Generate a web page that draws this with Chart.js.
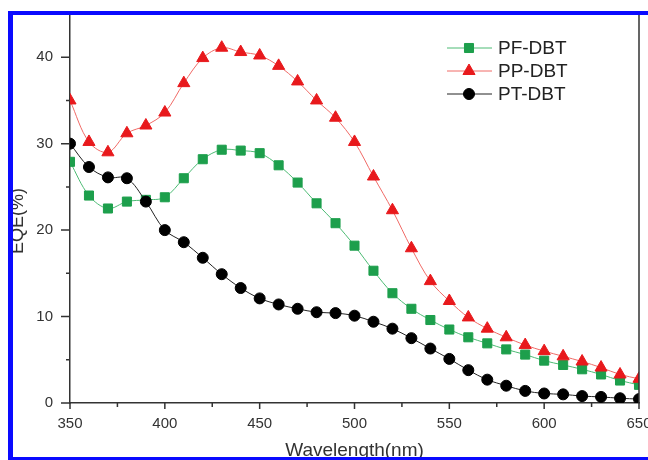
<!DOCTYPE html>
<html>
<head>
<meta charset="utf-8">
<script src="https://cdn.jsdelivr.net/npm/chart.js@4"></script>
<style>
  html, body { margin: 0; padding: 0; background: #fff; }
  #wrap { width: 648px; height: 460px; }
</style>
</head>
<body>
<div id="wrap"><canvas id="eqe" width="648" height="460"></canvas></div>
<script>
// wavelength (nm)
const wavelengths = [350, 360, 370, 380, 390, 400, 410, 420, 430, 440, 450, 460, 470, 480, 490, 500,
                     510, 520, 530, 540, 550, 560, 570, 580, 590, 600, 610, 620, 630, 640, 650];
// EQE (%)
const pfDbt = [27.9, 24.0, 22.5, 23.3, 23.5, 23.8, 26.0, 28.2, 29.3, 29.2, 28.9, 27.5, 25.5, 23.1, 20.8, 18.2,
               15.3, 12.7, 10.9, 9.6, 8.5, 7.6, 6.9, 6.2, 5.6, 4.9, 4.4, 3.9, 3.3, 2.6, 2.1];
const ppDbt = [35.0, 30.2, 29.0, 31.2, 32.1, 33.6, 37.0, 39.9, 41.1, 40.6, 40.2, 39.0, 37.2, 35.0, 33.0, 30.2,
               26.2, 22.3, 17.9, 14.1, 11.8, 9.9, 8.6, 7.6, 6.7, 6.0, 5.4, 4.8, 4.1, 3.3, 2.8];
const ptDbt = [30.0, 27.3, 26.1, 26.0, 23.3, 20.0, 18.6, 16.8, 14.9, 13.3, 12.1, 11.4, 10.9, 10.5, 10.4, 10.1,
               9.4, 8.6, 7.5, 6.3, 5.1, 3.8, 2.7, 2.0, 1.4, 1.1, 1.0, 0.8, 0.7, 0.55, 0.45];
const seriesNames = ['PF-DBT', 'PP-DBT', 'PT-DBT'];
const xTicks = [350, 400, 450, 500, 550, 600, 650];
const yTicks = [0, 10, 20, 30, 40];

const FONT = '"Liberation Sans", Arial, sans-serif';
const AXIS = '#333';

function pts(vals) {
    return wavelengths.map((w, i) => ({ x: w, y: vals[i] }));
}

// fixed axis box, no extra room for the end labels
function pinScale(s, size) {
    if (s.isHorizontal()) s.height = size; else s.width = size;
    s.paddingTop = 0; s.paddingBottom = 0;
    s.paddingLeft = 0; s.paddingRight = 0;
}

// axis ticks (major + minor), right frame line, y title and the blue picture border
const frameAndTicks = {
    id: 'frameAndTicks',
    afterDatasetsDraw(chart) {
        const { ctx, chartArea: a, scales: { x, y } } = chart;
        ctx.save();
        ctx.strokeStyle = AXIS;
        ctx.lineWidth = 1.5;
        ctx.beginPath();
        // right frame line
        ctx.moveTo(a.right, a.top);
        ctx.lineTo(a.right, a.bottom);
        // x ticks, pointing down
        for (let v = 350; v <= 650; v += 25) {
            const px = x.getPixelForValue(v);
            const len = (v % 50 === 0) ? 6 : 4;
            ctx.moveTo(px, a.bottom);
            ctx.lineTo(px, a.bottom + len);
        }
        // y ticks, pointing left
        for (let v = 0; v <= 45; v += 5) {
            const py = y.getPixelForValue(v);
            const len = (v % 10 === 0) ? 9 : 4;
            ctx.moveTo(a.left, py);
            ctx.lineTo(a.left - len, py);
        }
        ctx.stroke();

        // y title, sits a bit below the middle of the axis
        ctx.translate(18, 221);
        ctx.rotate(-Math.PI / 2);
        ctx.font = '18px ' + FONT;
        ctx.fillStyle = AXIS;
        ctx.textAlign = 'center';
        ctx.textBaseline = 'middle';
        ctx.fillText('EQE(%)', 0, 0);
        ctx.restore();
    },
    afterDraw(chart) {
        const ctx = chart.ctx;
        ctx.save();
        ctx.fillStyle = '#0a0aff';
        ctx.fillRect(8, 11, 640, 4);     // top band
        ctx.fillRect(8, 11, 5, 449);     // left band
        ctx.fillRect(8, 457, 640, 3);    // bottom band
        ctx.restore();
    }
};

// legend with a line through each marker
const lineLegend = {
    id: 'lineLegend',
    afterDatasetsDraw(chart) {
        const ctx = chart.ctx;
        ctx.save();
        ctx.font = '19px ' + FONT;
        ctx.textBaseline = 'middle';
        chart.data.datasets.forEach((ds, i) => {
            const yy = 48 + i * 23;
            ctx.strokeStyle = ds.borderColor;
            ctx.lineWidth = 1;
            ctx.beginPath();
            ctx.moveTo(447, yy);
            ctx.lineTo(492, yy);
            ctx.stroke();
            ctx.fillStyle = ds.pointBackgroundColor;
            ctx.strokeStyle = ds.pointBackgroundColor;
            Chart.helpers.drawPoint(ctx, {
                pointStyle: ds.pointStyle, radius: ds.pointRadius, borderWidth: 1, rotation: 0
            }, 469, yy);
            ctx.fillStyle = '#222';
            ctx.fillText(ds.label, 498, yy + 1);
        });
        ctx.restore();
    }
};

new Chart(document.getElementById('eqe'), {
    type: 'line',
    data: {
        datasets: [
            {
                label: seriesNames[0], data: pts(pfDbt), order: 2,
                borderColor: '#4dbb74', borderWidth: 1,
                pointStyle: 'rect', pointRadius: 6.4,
                pointBackgroundColor: '#1d9f4c', pointBorderColor: '#1d9f4c', pointBorderWidth: 1
            },
            {
                label: seriesNames[1], data: pts(ppDbt), order: 1,
                borderColor: '#f06a66', borderWidth: 1,
                pointStyle: 'triangle', pointRadius: 7,
                pointBackgroundColor: '#e8191c', pointBorderColor: '#e8191c', pointBorderWidth: 1
            },
            {
                label: seriesNames[2], data: pts(ptDbt), order: 0,
                borderColor: '#222', borderWidth: 1,
                pointStyle: 'circle', pointRadius: 5.5,
                pointBackgroundColor: '#000', pointBorderColor: '#000', pointBorderWidth: 1
            }
        ]
    },
    options: {
        responsive: false,
        animation: false,
        clip: 0,
        layout: { padding: { top: 14, right: 9, left: 0, bottom: 0 } },
        elements: { line: { tension: 0.35 } },
        plugins: {
            legend: { display: false },
            tooltip: { enabled: false }
        },
        scales: {
            x: {
                type: 'linear',
                min: 350, max: 650,
                afterFit: s => pinScale(s, 57),
                afterBuildTicks: s => { s.ticks = xTicks.map(v => ({ value: v })); },
                grid: { drawOnChartArea: false, drawTicks: false },
                border: { display: true, color: AXIS, width: 1.5 },
                ticks: { padding: 12, color: AXIS, font: { family: FONT, size: 15 }, maxRotation: 0 },
                title: {
                    display: true, text: 'Wavelength(nm)', color: AXIS,
                    font: { family: FONT, size: 19 }, padding: { top: 0, bottom: -2 }
                }
            },
            y: {
                min: 0, max: 45,
                afterFit: s => pinScale(s, 70),
                afterBuildTicks: s => { s.ticks = yTicks.map(v => ({ value: v })); },
                grid: { drawOnChartArea: false, drawTicks: false },
                border: { display: true, color: AXIS, width: 1.5 },
                ticks: { padding: 17, color: AXIS, font: { family: FONT, size: 15 } }
            }
        }
    },
    plugins: [frameAndTicks, lineLegend]
});
</script>
</body>
</html>
